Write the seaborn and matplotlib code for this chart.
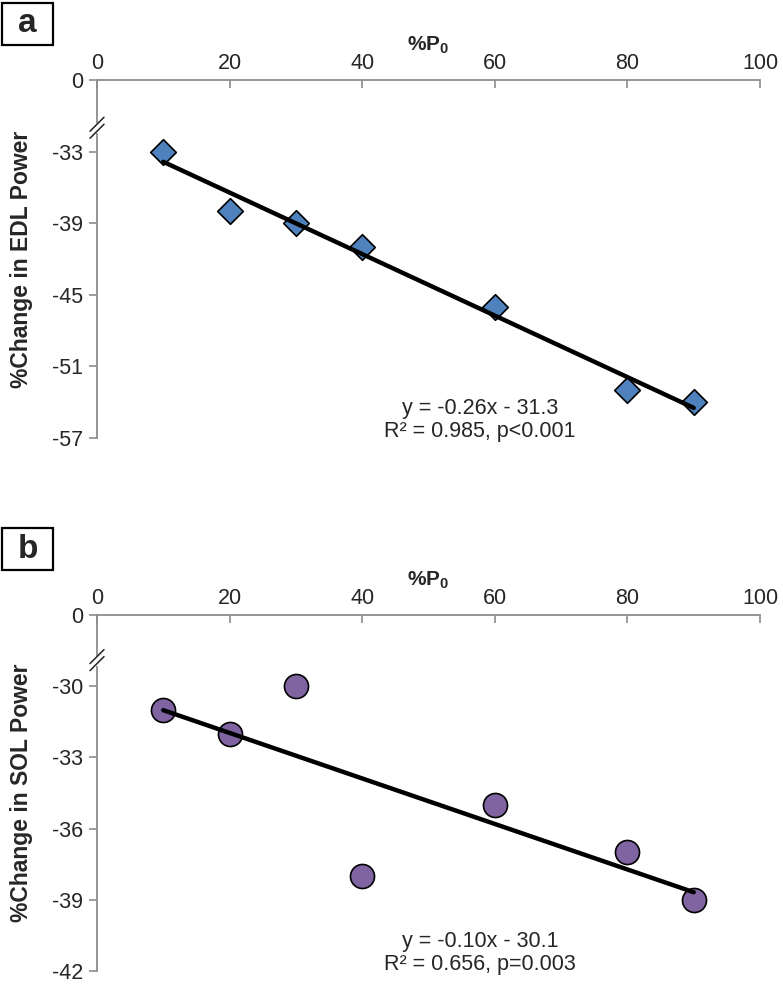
import matplotlib
matplotlib.use("Agg")
import matplotlib.pyplot as plt
import seaborn as sns
import pandas as pd
from matplotlib.patches import Rectangle

# %P0 stimulation levels
p0 = [10, 20, 30, 40, 60, 80, 90]
# % change in power
edl_change = [-33, -38, -39, -41, -46, -53, -54]
sol_change = [-31, -32, -30, -38, -35, -37, -39]

x_ticks = [0, 20, 40, 60, 80, 100]
# Excel-style broken axis: top tick is labelled "0"
edl_yticks = [-27, -33, -39, -45, -51, -57]
edl_ylabels = ["0", "-33", "-39", "-45", "-51", "-57"]
sol_yticks = [-27, -30, -33, -36, -39, -42]
sol_ylabels = ["0", "-30", "-33", "-36", "-39", "-42"]

edl_stats = "y = -0.26x - 31.3\nR\u00b2 = 0.985, p<0.001"
sol_stats = "y = -0.10x - 30.1\nR\u00b2 = 0.656, p=0.003"

sns.set_style("white")
plt.rcParams["font.family"] = ["Liberation Sans", "DejaVu Sans"]
plt.rcParams["mathtext.fontset"] = "custom"
plt.rcParams["mathtext.rm"] = "Liberation Sans"
plt.rcParams["mathtext.bf"] = "Liberation Sans:bold"

W, H = 783, 986
fig = plt.figure(figsize=(W / 100, H / 100), dpi=100)
GRAY = "#8c8c8c"


def px_rect(left, top, right, bottom):
    return [left / W, 1 - bottom / H, (right - left) / W, (bottom - top) / H]


def draw_panel(rect, y, yticks, ylabels, ylabel, marker, color, size, stats, brk, letter, box_top):
    ax = fig.add_axes(rect)
    df = pd.DataFrame({"x": p0, "y": y})
    sns.regplot(data=df, x="x", y="y", ax=ax, ci=None, marker=marker,
                scatter_kws=dict(s=size, color=color, edgecolor="black",
                                 linewidths=1.2, alpha=1, zorder=3),
                line_kws=dict(color="black", lw=3.2, zorder=4))
    ax.set_xlim(0, 100)
    ax.set_ylim(yticks[-1], yticks[0])
    ax.xaxis.tick_top()
    ax.xaxis.set_label_position("top")
    ax.set_xticks(x_ticks)
    ax.set_yticks(yticks, ylabels)
    ax.set_xlabel(r"%P$_\mathbf{0}$", fontsize=15, fontweight="bold", labelpad=2)
    ax.set_ylabel(ylabel, fontsize=16.5, fontweight="bold")
    ax.yaxis.set_label_coords(-64 / ax.bbox.width, 0.5)
    for s in ["right", "bottom"]:
        ax.spines[s].set_visible(False)
    for s in ["left", "top"]:
        ax.spines[s].set_color(GRAY)
        ax.spines[s].set_linewidth(1.3)
    ax.tick_params(axis="x", direction="in", length=6, width=1.2, color=GRAY,
                   labelsize=15.5, pad=4, top=True, bottom=False)
    ax.tick_params(axis="y", direction="out", length=6, width=1.2, color=GRAY,
                   labelsize=15.5, pad=4, left=True)
    ax.text(0.578, 0.05, stats, transform=ax.transAxes, ha="center", va="center",
            fontsize=15.5, linespacing=1.1)

    # axis break marks
    ymin, ymax = ax.get_ylim()
    fy = (brk - ymin) / (ymax - ymin)
    dx = 7 / ax.bbox.width
    dy = 7 / ax.bbox.height
    gap = 3.5 / ax.bbox.height
    ax.plot([0, 0], [fy - gap, fy + gap], transform=ax.transAxes, color="white",
            lw=2.5, clip_on=False, zorder=5)
    for off in (-gap, gap):
        ax.plot([-dx, dx], [fy + off - dy, fy + off + dy], transform=ax.transAxes,
                color="#222222", lw=1.1, clip_on=False, zorder=6)

    # panel letter box
    x0, x1 = 2, 53
    y0, y1 = box_top, box_top + 42
    fig.patches.append(Rectangle((x0 / W, 1 - y1 / H), (x1 - x0) / W, (y1 - y0) / H,
                                 transform=fig.transFigure, fill=False,
                                 edgecolor="black", lw=1.6))
    fig.text((x0 + x1) / 2 / W, 1 - (y0 + y1) / 2 / H, letter, ha="center", va="center",
             fontsize=24, fontweight="bold")
    return ax


draw_panel(px_rect(97, 80, 760, 438), edl_change, edl_yticks, edl_ylabels,
           "%Change in EDL Power", "D", "#4f81bd", 170, edl_stats, -31.0, "a", 3)
draw_panel(px_rect(97, 615, 760, 971), sol_change, sol_yticks, sol_ylabels,
           "%Change in SOL Power", "o", "#8064a2", 300, sol_stats, -28.9, "b", 528)

fig.savefig("out.png", dpi=100)
